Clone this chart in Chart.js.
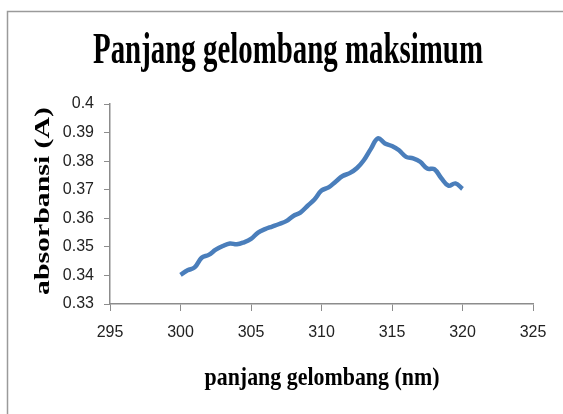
<!DOCTYPE html>
<html lang="id">
<head>
    <meta charset="UTF-8">
    <title>Panjang gelombang maksimum</title>
    <script src="https://cdn.jsdelivr.net/npm/chart.js"></script>
    <style>
        html, body { margin: 0; padding: 0; background: #fff; }
        #wrap { width: 563px; height: 414px; }
    </style>
</head>
<body>
    <div id="wrap"><canvas id="spektrum" width="563" height="414"></canvas></div>

    <script>
        // panjang gelombang (nm)
        const panjangGelombang = [300, 300.5, 301, 301.5, 302, 302.5, 303, 303.5, 304, 304.5,
            305, 305.5, 306, 306.5, 307, 307.5, 308, 308.5, 309, 309.5,
            310, 310.5, 311, 311.5, 312, 312.5, 313, 313.5, 314, 314.5,
            315, 315.5, 316, 316.5, 317, 317.5, 318, 318.5, 319, 319.5, 320];
        // absorbansi (A)
        const absorbansi = [0.3402, 0.3418, 0.3428, 0.3462, 0.3472, 0.3490, 0.3503, 0.3512, 0.3509, 0.3516,
            0.3528, 0.3550, 0.3562, 0.3571, 0.3580, 0.3590, 0.3608, 0.3620, 0.3643, 0.3666,
            0.3697, 0.3708, 0.3728, 0.3748, 0.3758, 0.3775, 0.3803, 0.3843, 0.3880, 0.3862,
            0.3853, 0.3838, 0.3815, 0.3810, 0.3798, 0.3774, 0.3772, 0.3740, 0.3714, 0.3722, 0.3703];

        const xTicks = [295, 300, 305, 310, 315, 320, 325];
        const yTicks = [0.33, 0.34, 0.35, 0.36, 0.37, 0.38, 0.39, 0.4];

        const judul = 'Panjang gelombang maksimum';
        const judulX = 'panjang gelombang (nm)';
        const judulY = 'absorbansi (A)';

        const points = panjangGelombang.map((x, i) => ({ x: x, y: absorbansi[i] }));

        // teks serif yang dipadatkan, seperti di gambar asli
        function drawSquashed(ctx, text, font, cx, cy, targetWidth, angle) {
            ctx.save();
            ctx.font = font;
            const w = ctx.measureText(text).width;
            ctx.translate(cx, cy);
            if (angle) ctx.rotate(angle);
            ctx.scale(targetWidth / w, 1);
            ctx.textAlign = 'center';
            ctx.textBaseline = 'alphabetic';
            ctx.fillStyle = '#000';
            ctx.fillText(text, 0, 0);
            ctx.restore();
        }

        const bingkai = {
            id: 'bingkai',
            beforeDraw(chart) {
                const ctx = chart.ctx;
                ctx.save();
                ctx.strokeStyle = '#9a9a9a';
                ctx.lineWidth = 1.5;
                ctx.beginPath();
                ctx.moveTo(563, 11.5);
                ctx.lineTo(7.5, 11.5);
                ctx.lineTo(7.5, 414);
                ctx.stroke();
                ctx.restore();
            },
            afterDraw(chart) {
                const ctx = chart.ctx;
                drawSquashed(ctx, judul, 'bold 44px "Liberation Serif"', 288, 63, 390, 0);
                drawSquashed(ctx, judulX, 'bold 26px "Liberation Serif"', 322, 385, 235, 0);
                drawSquashed(ctx, judulY, 'bold 22px "Liberation Serif"', 49, 201, 188, -Math.PI / 2);
            }
        };

        new Chart(document.getElementById('spektrum').getContext('2d'), {
            type: 'scatter',
            data: {
                datasets: [{
                    data: points,
                    showLine: true,
                    borderColor: '#4a7ebb',
                    borderWidth: 4.5,
                    pointRadius: 0,
                    tension: 0.4,
                    fill: false
                }]
            },
            options: {
                responsive: false,
                animation: false,
                layout: { padding: { left: 0, top: 104, right: 30, bottom: 0 } },
                plugins: {
                    legend: { display: false },
                    tooltip: { enabled: false },
                    title: { display: false }
                },
                scales: {
                    x: {
                        type: 'linear',
                        min: 295,
                        max: 325,
                        afterBuildTicks: s => { s.ticks = xTicks.map(v => ({ value: v })); },
                        afterFit: s => { s.height = 414 - 304; },
                        grid: { drawOnChartArea: false, drawTicks: true, tickLength: 7, color: '#8c8c8c' },
                        border: { color: '#8c8c8c', width: 1.5 },
                        ticks: {
                            padding: 12,
                            color: '#222',
                            font: { family: '"Liberation Sans"', size: 16 },
                            maxRotation: 0
                        }
                    },
                    y: {
                        min: 0.33,
                        max: 0.4,
                        afterBuildTicks: s => { s.ticks = yTicks.map(v => ({ value: v })); },
                        afterFit: s => { s.width = 110; },
                        grid: { drawOnChartArea: false, drawTicks: true, tickLength: 6, color: '#8c8c8c' },
                        border: { color: '#8c8c8c', width: 1.5 },
                        ticks: {
                            padding: 10,
                            color: '#222',
                            font: { family: '"Liberation Sans"', size: 16 },
                            callback: v => String(Math.round(v * 100) / 100)
                        }
                    }
                }
            },
            plugins: [bingkai]
        });
    </script>
</body>
</html>
